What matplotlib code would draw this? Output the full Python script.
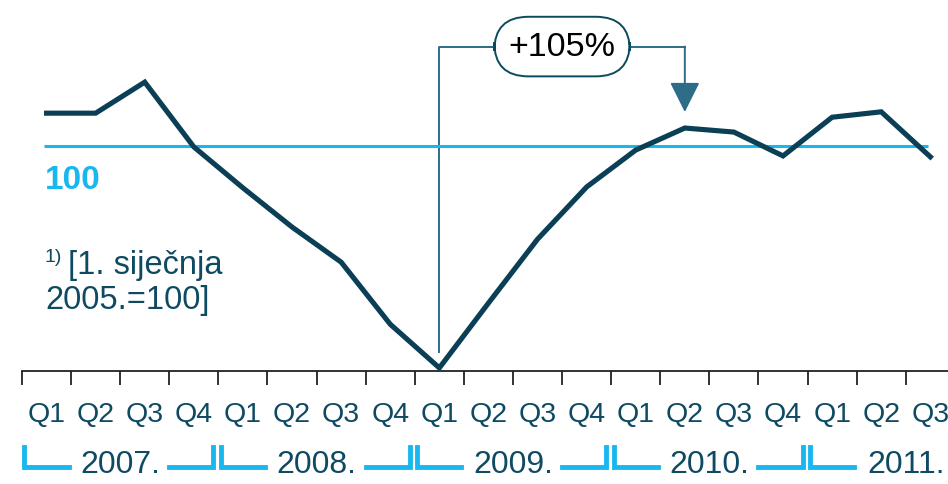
import matplotlib.pyplot as plt

plt.rcParams['font.family'] = ['Liberation Sans', 'DejaVu Sans']

# data (index 1.1.2005 = 100)
kvartali = ["Q1", "Q2", "Q3", "Q4"] * 4 + ["Q1", "Q2", "Q3"]
vrijednosti = [107.4, 107.4, 114.3, 99.9, 90.8, 82.1, 74.3, 60.5, 50.8,
               65.2, 79.4, 91.0, 99.2, 104.1, 103.2, 97.9, 106.5, 107.7, 97.7]
godine = ["2007.", "2008.", "2009.", "2010.", "2011."]
razina = 100
porast = "+105%"

tamna = "#0a3f55"
tekst = "#0f4a63"
plava = "#19b7f0"
spoj = "#2d6d88"

fig = plt.figure(figsize=(9.48, 4.85), dpi=100)
ax = fig.add_axes([22/948, 113/485, 926/948, 372/485])

x = list(range(len(vrijednosti)))
ax.set_xlim(-0.5, 18.36)
ax.set_ylim(50.11, 132.77)

ax.hlines(razina, -0.05, 17.95, color=plava, lw=2.2, zorder=2)
ax.plot(x, vrijednosti, color=tamna, lw=3.7, solid_joinstyle="miter", zorder=3)

ax.text(-0.5 + 23/49.1, 92.6, "100", color=plava, fontsize=24, fontweight="bold",
        ha="left", va="center")

# anotacija
dno = vrijednosti.index(min(vrijednosti))
vrh = 13
ax.plot([dno, dno, 9.16], [54.3, 122.2, 122.2], color=spoj, lw=1.4, zorder=1)
ax.plot([11.83, vrh], [122.2, 122.2], color=spoj, lw=1.4, zorder=1)
ax.annotate("", xy=(vrh, 107.66), xytext=(vrh, 122.2),
            arrowprops=dict(arrowstyle="-|>,head_length=1.0,head_width=0.5",
                            mutation_scale=18.7, color=spoj, lw=1.4,
                            shrinkA=0, shrinkB=0))
ax.text(10.5, 122.2, porast, fontsize=24.5, color="black", ha="center", va="center",
        bbox=dict(boxstyle="round,pad=0.42,rounding_size=1.0", fc="white",
                  ec="#0d4a5e", lw=1.4), zorder=4)

# os
for s in ["left", "top", "right"]:
    ax.spines[s].set_visible(False)
ax.spines["bottom"].set_linewidth(1.3)
ax.spines["bottom"].set_color("#222222")
ax.set_yticks([])
ax.set_xticks([i - 0.5 for i in range(len(vrijednosti))])
ax.tick_params(axis="x", direction="out", length=10, width=1.3, color="#222222",
               labelbottom=False)

tr = ax.get_xaxis_transform()
for i, q in enumerate(kvartali):
    ax.text(i, -43/372, q, transform=tr, ha="center", va="center",
            fontsize=20.5, color=tekst, clip_on=False)

# godine
yb_top = -76/372
yb_bot = -96/372
for j, g in enumerate(godine):
    a = 4*j - 0.5
    b = a + 4
    ax.plot([a + 0.05, a + 0.05, a + 0.95], [yb_top, yb_bot, yb_bot], transform=tr,
            color=plava, lw=3.5, clip_on=False, solid_joinstyle="miter")
    ax.plot([b - 1.0, b - 0.1, b - 0.1], [yb_bot, yb_bot, yb_top], transform=tr,
            color=plava, lw=3.5, clip_on=False, solid_joinstyle="miter")
    ax.text(a + 2, -93/372, g, transform=tr, ha="center", va="center",
            fontsize=23, color=tekst, clip_on=False)

# fusnota
fig.text(45/948, (485-262)/485, "1)", fontsize=14, color=tekst, va="baseline")
fig.text(68/948, (485-274)/485, "[1. siječnja", fontsize=23.5, color=tekst, va="baseline")
fig.text(45/948, (485-309)/485, "2005.=100]", fontsize=23.5, color=tekst, va="baseline")

fig.savefig("out.png", dpi=100)
